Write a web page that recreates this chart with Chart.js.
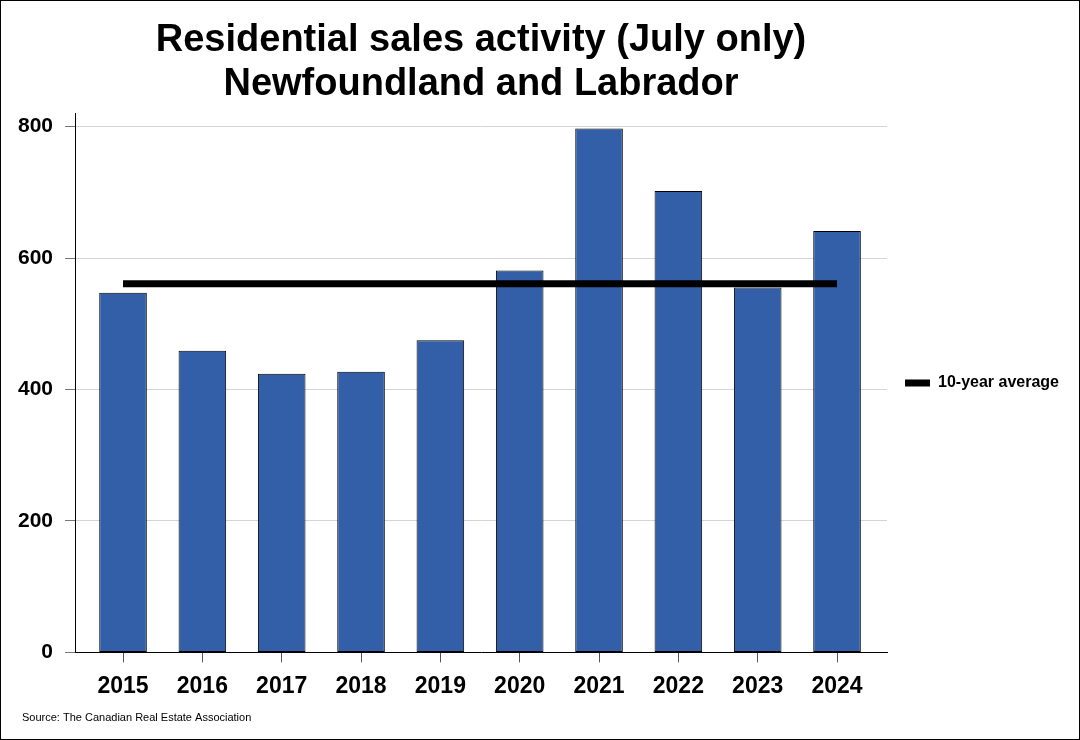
<!DOCTYPE html>
<html>
<head>
<meta charset="utf-8">
<title>Residential sales activity (July only) - Newfoundland and Labrador</title>
<script src="https://cdn.jsdelivr.net/npm/chart.js@4.4.1/dist/chart.umd.min.js"></script>
<style>
    html, body { margin: 0; padding: 0; background: #ffffff; }
    #wrap { width: 1080px; height: 740px; position: relative; }
</style>
</head>
<body>
<div id="wrap"><canvas id="chart" width="1080" height="740"></canvas></div>
<script>
/* July sales */

const years = [2015, 2016, 2017, 2018, 2019, 2020, 2021, 2022, 2023, 2024];

const sales = [547, 459, 424, 427, 475, 581, 797, 702, 555, 641];

const tenYearAverage = [561, 561, 561, 561, 561, 561, 561, 561, 561, 561];

const yTicks = [0, 200, 400, 600, 800];

const FONT = "'Liberation Sans', Arial, Helvetica, sans-serif";

const SOURCE = "Source: The Canadian Real Estate Association";

// thin black frame round the picture, and the source line bottom left
const framePlugin = {
    id: "frame",
    afterDraw(chart) {
        const ctx = chart.ctx;
        ctx.save();
        ctx.strokeStyle = "#000000";
        ctx.lineWidth = 1;
        ctx.strokeRect(0.5, 0.5, chart.width - 1, chart.height - 1);
        ctx.fillStyle = "#000000";
        ctx.font = "11px " + FONT;
        ctx.textAlign = "left";
        ctx.textBaseline = "middle";
        ctx.fillText(SOURCE, 22, 718);
        ctx.restore();
    }
};

const ctx = document.getElementById("chart").getContext("2d");

new Chart(ctx, {

    data: {
        datasets: [
            {
                type: "line",
                label: "10-year average",
                data: years.map((yr, i) => ({ x: yr, y: tenYearAverage[i] })),
                borderColor: "#000000",
                backgroundColor: "#000000",
                borderWidth: 7,
                pointRadius: 0,
                tension: 0,
                order: 0
            },
            {
                type: "bar",
                label: "Sales",
                data: years.map((yr, i) => ({ x: yr, y: sales[i] })),
                backgroundColor: "#335fa8",
                borderColor: "#000000",
                borderWidth: 1,
                borderSkipped: false,
                barPercentage: 0.6,
                categoryPercentage: 1.0,
                order: 1
            }
        ]
    },

    options: {
        responsive: false,
        animation: false,
        layout: {
            padding: { left: 6, right: 11, top: 0, bottom: 30 }
        },
        scales: {
            x: {
                type: "linear",
                offset: false,
                min: 2014.395,
                max: 2024.63,
                grid: {
                    display: true,
                    offset: false,
                    drawOnChartArea: false,
                    tickLength: 10,
                    tickColor: "#555555"
                },
                border: { color: "#000000", width: 1 },
                ticks: {
                    stepSize: 1,
                    includeBounds: false,
                    padding: 10,
                    color: "#000000",
                    font: { family: FONT, size: 23, weight: "bold" },
                    callback: (value) => String(value)
                },
                afterBuildTicks(scale) {
                    scale.ticks = years.map((v) => ({ value: v }));
                }
            },
            y: {
                min: 0,
                max: 820,
                grid: {
                    color: "#d4d4d4",
                    lineWidth: 1,
                    tickLength: 10,
                    tickColor: "#777777"
                },
                border: { color: "#000000", width: 1 },
                ticks: {
                    includeBounds: false,
                    padding: 12,
                    color: "#000000",
                    font: { family: FONT, size: 21, weight: "bold" }
                },
                afterBuildTicks(scale) {
                    scale.ticks = yTicks.map((v) => ({ value: v }));
                }
            }
        },
        plugins: {
            title: {
                display: true,
                fullSize: false,
                text: [
                    "Residential sales activity (July only)",
                    "Newfoundland and Labrador"
                ],
                color: "#000000",
                font: { family: FONT, size: 38, weight: "bold", lineHeight: 1.15 },
                padding: { top: 19, bottom: 7 }
            },
            legend: {
                position: "right",
                fullSize: false,
                labels: {
                    color: "#000000",
                    font: { family: FONT, size: 16, weight: "bold" },
                    boxWidth: 25,
                    boxHeight: 7,
                    padding: 18,
                    generateLabels(chart) {
                        return [{
                            text: "10-year average",
                            fillStyle: "#000000",
                            strokeStyle: "#000000",
                            lineWidth: 0,
                            fontColor: "#000000",
                            datasetIndex: 0,
                            hidden: false
                        }];
                    }
                }
            },
            tooltip: { enabled: false }
        }
    },

    plugins: [framePlugin]

});
</script>
</body>
</html>
